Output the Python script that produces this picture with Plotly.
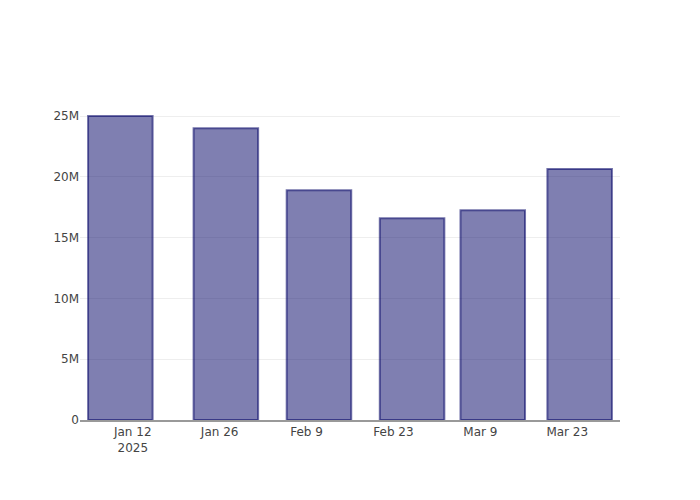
import plotly.graph_objects as go

dates = ["2025-01-10", "2025-01-27", "2025-02-11", "2025-02-26", "2025-03-11", "2025-03-25"]
values = [25.0e6, 24.0e6, 18.9e6, 16.6e6, 17.25e6, 20.65e6]

fig = go.Figure(
    go.Bar(
        x=dates,
        y=values,
        marker=dict(
            color="rgba(0,0,100,0.5)",
            line=dict(color="rgba(0,0,100,0.55)", width=2),
        ),
    )
)

fig.update_layout(
    template="none",
    width=692,
    height=492,
    margin=dict(l=72, r=80, t=92, b=80),
    paper_bgcolor="white",
    plot_bgcolor="white",
    font=dict(family="DejaVu Sans", color="#444", size=12),
    xaxis=dict(
        type="date",
        showgrid=False,
        showline=True,
        linecolor="#999",
        linewidth=1.5,
        ticks="",
        ticklen=0,
    ),
    yaxis=dict(
        showgrid=True,
        gridcolor="#eee",
        zeroline=False,
        ticks="",
        tickformat="~s",
    ),
)

fig.write_html("out.html")
